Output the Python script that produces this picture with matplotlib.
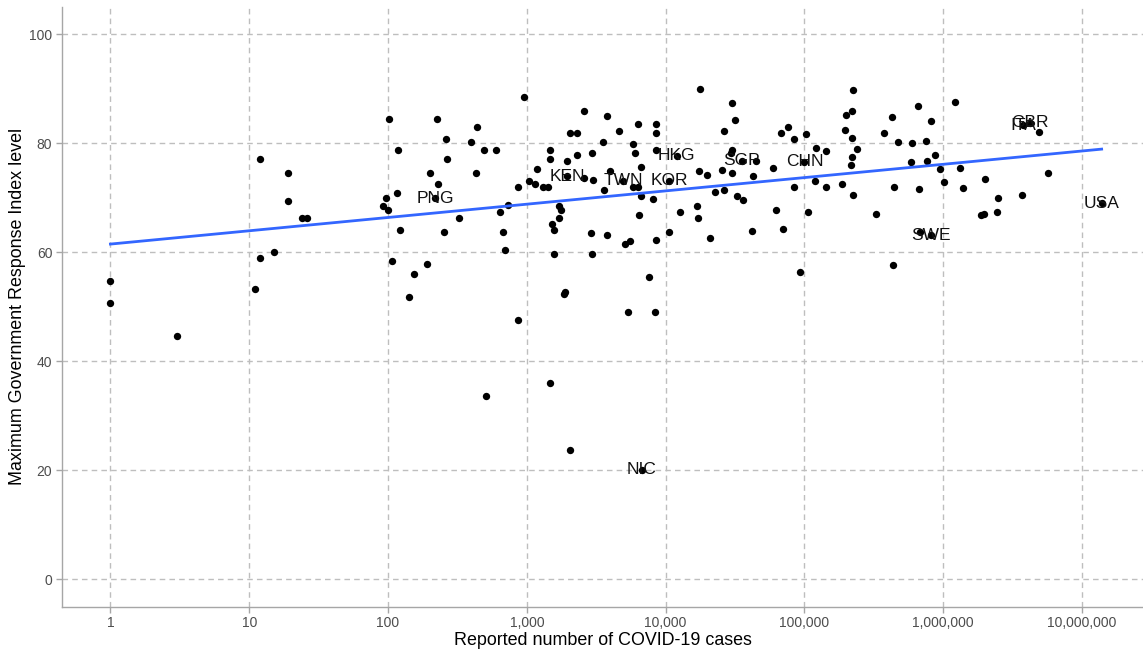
import numpy as np
import matplotlib
matplotlib.use("Agg")
import matplotlib.pyplot as plt
from matplotlib.ticker import FixedLocator, NullLocator

plt.rcParams['font.family'] = ['Liberation Sans', 'DejaVu Sans']

# ---- data: log10(reported cases) and max government response index ----
log10_cases = [
    0.000, 0.000, 0.479, 1.079, 1.281, 1.281, 1.377, 1.416, 1.079, 1.178,
    1.043, 2.004, 2.069, 2.062, 1.985, 1.965, 2.001, 2.086, 2.030, 2.189,
    2.153, 2.355, 2.981, 2.640, 2.417, 2.595, 2.691, 2.775, 2.427, 2.302,
    2.631, 2.362, 2.400, 2.511, 2.278, 2.936, 2.866, 2.808, 2.830, 2.842,
    2.934, 3.017, 3.058, 3.071, 3.169, 3.169, 3.118, 3.154, 3.234, 3.248,
    3.231, 3.181, 3.195, 3.195, 3.267, 3.277, 3.308, 3.361, 3.291, 3.363,
    3.414, 3.577, 3.546, 3.471, 3.666, 3.411, 3.474, 3.599, 3.553, 3.764,
    3.798, 3.820, 3.909, 3.822, 3.767, 3.781, 3.803, 3.932, 3.932, 3.932,
    4.105, 4.022, 3.932, 3.805, 3.464, 3.575, 3.471, 3.707, 3.745, 3.882,
    3.728, 3.921, 2.707, 3.164, 3.308, 4.245, 4.480, 4.497, 4.418, 4.480,
    4.468, 4.651, 4.408, 4.475, 4.240, 4.297, 4.627, 4.355, 4.423, 4.511,
    4.559, 4.223, 4.231, 4.319, 4.620, 4.829, 4.881, 4.924, 5.013, 5.083,
    5.155, 4.775, 4.926, 5.076, 5.153, 5.268, 4.797, 5.027, 4.847, 4.967,
    5.352, 5.297, 5.344, 5.292, 5.344, 5.380, 5.344, 5.333, 5.347, 5.515,
    5.638, 5.571, 5.631, 5.674, 5.777, 5.765, 5.647, 5.820, 5.825, 6.084,
    5.909, 5.875, 5.938, 5.883, 5.978, 6.118, 6.005, 6.144, 6.300, 6.396,
    6.569, 6.752, 6.269, 6.293, 6.384, 6.693, 5.830,
]
response_index = [
    54.7, 50.6, 44.6, 77.2, 74.6, 69.4, 66.2, 66.2, 59.0, 60.0,
    53.2, 84.5, 78.7, 70.9, 69.9, 68.4, 67.8, 64.1, 58.4, 56.0,
    51.7, 84.5, 88.4, 83.0, 80.8, 80.3, 78.7, 78.7, 77.1, 74.6,
    74.6, 72.5, 63.7, 66.2, 57.9, 72.0, 68.6, 67.3, 63.7, 60.5,
    47.6, 73.1, 72.5, 75.3, 78.7, 77.1, 72.0, 72.0, 68.4, 67.8,
    66.2, 65.2, 64.1, 59.7, 52.3, 52.7, 81.8, 81.8, 76.8, 77.9,
    86.0, 85.0, 80.2, 78.3, 82.3, 73.6, 73.3, 75.0, 71.4, 72.0,
    71.9, 70.3, 69.8, 75.6, 79.8, 78.2, 83.5, 83.5, 81.8, 78.7,
    67.3, 63.7, 62.3, 66.8, 63.6, 63.1, 59.6, 61.5, 62.1, 55.4,
    49.1, 49.1, 33.7, 36.0, 23.8, 89.9, 87.4, 84.3, 82.3, 78.8,
    78.2, 76.8, 75.1, 74.6, 74.9, 74.1, 73.9, 71.0, 71.4, 70.4,
    69.5, 68.4, 66.2, 62.6, 63.9, 81.8, 82.9, 80.7, 81.7, 79.2,
    78.6, 75.5, 72.0, 73.1, 71.9, 72.6, 67.8, 67.3, 64.2, 56.4,
    89.8, 85.2, 85.9, 82.4, 80.9, 78.9, 77.5, 76.1, 70.5, 67.1,
    57.6, 81.9, 84.8, 80.3, 80.1, 76.6, 71.9, 86.9, 71.6, 87.6,
    84.0, 80.5, 77.9, 76.7, 75.2, 75.5, 72.9, 71.7, 73.4, 69.9,
    70.5, 74.6, 66.9, 67.0, 67.3, 82.0, 63.8,
]

# labelled countries
label_names = ["PNG", "KEN", "TWN", "KOR", "HKG", "NIC", "SGP", "CHN",
               "SWE", "GBR", "ITA", "USA"]
label_log10_cases = [2.338, 3.291, 3.695, 4.026, 4.079, 3.827, 4.548, 5.000,
                     5.909, 6.625, 6.577, 7.141]
label_response = [69.9, 73.9, 73.1, 73.1, 77.7, 20.1, 76.8, 76.6,
                  63.1, 83.8, 83.3, 69.0]

# linear trend (response vs log10 cases)
trend_intercept = 61.5
trend_slope = 2.44

x_ticks = [1, 10, 100, 1000, 10000, 100000, 1000000, 10000000]
x_tick_labels = ["1", "10", "100", "1,000", "10,000", "100,000",
                 "1,000,000", "10,000,000"]
y_ticks = [0, 20, 40, 60, 80, 100]

# ---- figure ----
W, H = 1143, 652
fig = plt.figure(figsize=(W / 100, H / 100), dpi=100)
ax = fig.add_axes([62 / W, 1 - 606.5 / H, (W - 62) / W, (606.5 - 7) / H])

all_lx = np.array(log10_cases + label_log10_cases)
all_y = np.array(response_index + label_response)
cases = 10 ** all_lx

ax.scatter(cases, all_y, s=28, color="black", zorder=3, linewidths=0)

lx_line = np.array([all_lx.min(), all_lx.max()])
ax.plot(10 ** lx_line, trend_intercept + trend_slope * lx_line,
        color="#3366FF", linewidth=2.0, zorder=4)

for name, lx, yv in zip(label_names, label_log10_cases, label_response):
    ax.text(10 ** lx, yv, name, ha="center", va="center", fontsize=12.5,
            color="#111111", zorder=5)

ax.set_xscale("log")
ax.set_xlim(10 ** -0.349, 10 ** 7.439)
ax.set_ylim(-5, 105)
ax.xaxis.set_major_locator(FixedLocator(x_ticks))
ax.xaxis.set_minor_locator(NullLocator())
ax.set_xticklabels(x_tick_labels)
ax.set_yticks(y_ticks)

ax.grid(True, which="major", linestyle=(0, (4, 3)), color="#BEBEBE",
        linewidth=1.0, zorder=0)
ax.set_axisbelow(True)

for side in ["top", "right"]:
    ax.spines[side].set_visible(False)
for side in ["left", "bottom"]:
    ax.spines[side].set_color("#A6A6A6")
    ax.spines[side].set_linewidth(1.0)

ax.tick_params(axis="both", colors="#A6A6A6", length=4, width=1.0,
               labelcolor="#4D4D4D", labelsize=10, pad=3)

ax.set_xlabel("Reported number of COVID-19 cases", fontsize=12.9,
              color="black", labelpad=1)
ax.set_ylabel("Maximum Government Response Index level", fontsize=12.9,
              color="black", labelpad=2)

fig.savefig("out.png", dpi=100)
